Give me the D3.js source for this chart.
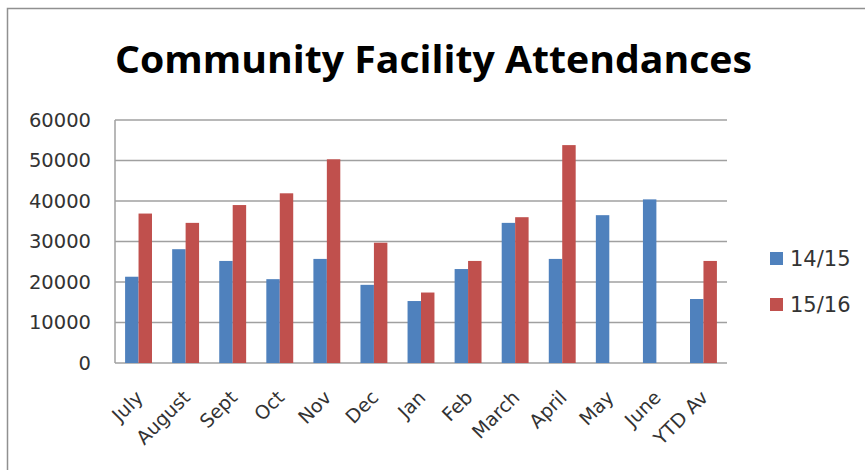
<!DOCTYPE html>
<html>
<head>
	<meta charset="utf-8">
	<script src="https://d3js.org/d3.v7.min.js"></script>
	<style>
		body { margin: 0; background: #fff; }
		text { font-family: "DejaVu Sans", sans-serif; }
		.axis path, .axis line { display: none; }
		.axis text { fill: #333; font-family: "DejaVu Sans", sans-serif; }
	</style>
</head>
<body>
	<svg width="865" height="470"></svg>
	<script>
		var categories = ["July", "August", "Sept", "Oct", "Nov", "Dec", "Jan", "Feb", "March", "April", "May", "June", "YTD Av"];
		var seriesNames = ["14/15", "15/16"];
		var values1415 = [21300, 28100, 25200, 20700, 25700, 19300, 15300, 23200, 34600, 25700, 36500, 40400, 15800];
		var values1516 = [36900, 34600, 39000, 41900, 50300, 29700, 17400, 25200, 36000, 53800, null, null, 25200];
		var yTicks = [0, 10000, 20000, 30000, 40000, 50000, 60000];
		var colors = ["#4f81bd", "#c0504d"];

		var svg = d3.select("svg"),
		margin = {top: 120, left: 115},
		width = 612,
		height = 243;

		// outer chart frame
		svg.append("rect")
		.attr("x", 7.5).attr("y", 8.5)
		.attr("width", 900).attr("height", 500)
		.attr("fill", "none")
		.attr("stroke", "#909090")
		.attr("stroke-width", 1.5);

		svg.append("text")
		.attr("x", 115)
		.attr("y", 73)
		.attr("textLength", 637)
		.attr("lengthAdjust", "spacingAndGlyphs")
		.style("font-family", "'Open Sans', sans-serif")
		.style("font-size", "37px")
		.style("font-weight", "bold")
		.style("fill", "#000")
		.text("Community Facility Attendances");

		var x = d3.scaleBand().domain(categories).range([0, width]);
		var y = d3.scaleLinear().domain([0, 60000]).range([height, 0]);
		var barW = x.bandwidth() / 3.5;

		var g = svg.append("g")
		.attr("transform", "translate(" + margin.left + "," + margin.top + ")");

		g.selectAll(".grid")
		.data(yTicks)
		.enter().append("line")
		.attr("x1", 0).attr("x2", width)
		.attr("y1", function(d) { return y(d); })
		.attr("y2", function(d) { return y(d); })
		.attr("stroke", "#a0a0a0")
		.attr("stroke-width", 1.5);

		g.append("line")
		.attr("x1", 0).attr("x2", 0)
		.attr("y1", 0).attr("y2", height)
		.attr("stroke", "#a0a0a0")
		.attr("stroke-width", 1.5);

		g.append("g")
		.attr("class", "axis")
		.attr("transform", "translate(-21,0)")
		.call(d3.axisLeft(y).tickValues(yTicks).tickFormat(d3.format("d")).tickSize(0))
		.selectAll("text")
		.style("font-size", "19.5px");

		g.append("g")
		.attr("class", "axis")
		.attr("transform", "translate(0," + height + ")")
		.call(d3.axisBottom(x).tickSize(0))
		.selectAll("text")
		.style("font-size", "19px")
		.style("text-anchor", "end")
		.attr("y", 0)
		.attr("dy", "0.35em")
		.attr("transform", "translate(1,31) rotate(-45)");

		[values1415, values1516].forEach(function(vals, s) {
			g.selectAll(".bar" + s)
			.data(categories.map(function(c, i) { return {c: c, v: vals[i]}; }).filter(function(d) { return d.v != null; }))
			.enter().append("rect")
			.attr("x", function(d) { return x(d.c) + x.bandwidth() / 2 - barW + s * barW; })
			.attr("y", function(d) { return y(d.v); })
			.attr("width", barW)
			.attr("height", function(d) { return height - y(d.v); })
			.attr("fill", colors[s]);
		});

		var legend = svg.selectAll(".legend")
		.data(seriesNames)
		.enter().append("g")
		.attr("transform", function(d, i) { return "translate(770," + (252 + i * 46) + ")"; });

		legend.append("rect")
		.attr("width", 13).attr("height", 13)
		.attr("fill", function(d, i) { return colors[i]; });

		legend.append("text")
		.attr("x", 20)
		.attr("y", 7)
		.attr("dy", "0.35em")
		.style("font-size", "21px")
		.style("fill", "#333")
		.text(function(d) { return d; });
	</script>
</body>
</html>
